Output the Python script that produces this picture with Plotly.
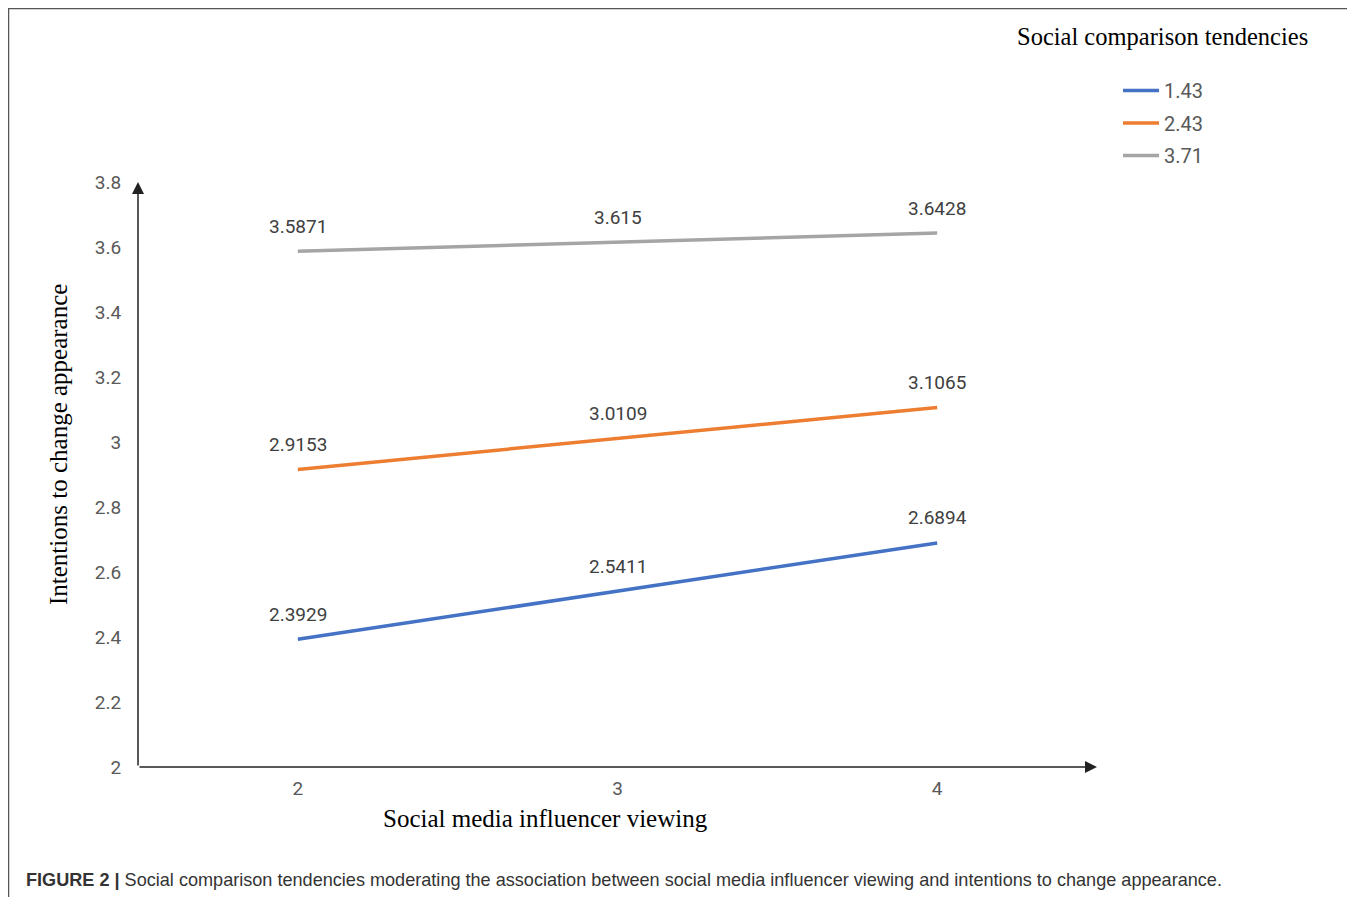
import plotly.graph_objects as go

x_vals = [2, 3, 4]
series_names = ["1.43", "2.43", "3.71"]
low_sct = [2.3929, 2.5411, 2.6894]
mid_sct = [2.9153, 3.0109, 3.1065]
high_sct = [3.5871, 3.615, 3.6428]
series_values = [low_sct, mid_sct, high_sct]
colors = ["#4472C4", "#ED7D31", "#A5A5A5"]
y_ticks = [2, 2.2, 2.4, 2.6, 2.8, 3, 3.2, 3.4, 3.6, 3.8]
y_tick_labels = ["2", "2.2", "2.4", "2.6", "2.8", "3", "3.2", "3.4", "3.6", "3.8"]

OFF = 8  # default page body margin
W, H = 1355 - OFF, 897 - OFF
ML, MR, MT, MB = 138 - OFF, 1355 - 1097, 182 - OFF, 897 - 767
PW, PH = W - ML - MR, H - MT - MB

def px_x(p):
    return (p - OFF - ML) / PW

def px_y(p):
    return (H - MB - (p - OFF)) / PH

fig = go.Figure()
for name, vals, col in zip(series_names, series_values, colors):
    fig.add_trace(go.Scatter(
        x=x_vals, y=vals, name=name, mode="lines",
        line=dict(color=col, width=3.5), legendgroup=name,
    ))

annotations = []
for vals in series_values:
    for xv, yv in zip(x_vals, vals):
        annotations.append(dict(
            x=xv, y=yv, xref="x", yref="y", text=str(yv), showarrow=False,
            yshift=25, font=dict(family="Roboto", size=19, color="#404040"),
        ))

# axis arrows
annotations.append(dict(x=4.5, y=2, ax=1.5, ay=2, xref="x", yref="y", axref="x", ayref="y",
                        text="", showarrow=True, arrowhead=2, arrowsize=1.6, arrowwidth=1.5,
                        arrowcolor="#222222", standoff=0, startstandoff=0))
annotations.append(dict(x=1.5, y=3.8, ax=1.5, ay=2, xref="x", yref="y", axref="x", ayref="y",
                        text="", showarrow=True, arrowhead=2, arrowsize=1.6, arrowwidth=1.5,
                        arrowcolor="#222222", standoff=0, startstandoff=0))

# titles
annotations.append(dict(x=px_x(545), y=px_y(818), xref="paper", yref="paper",
                        text="Social media influencer viewing", showarrow=False,
                        xanchor="center", yanchor="middle",
                        font=dict(family="Liberation Serif", size=25, color="#000000")))
annotations.append(dict(x=px_x(58), y=px_y(445), xref="paper", yref="paper",
                        text="Intentions to change appearance", showarrow=False, textangle=-90,
                        xanchor="center", yanchor="middle",
                        font=dict(family="Liberation Serif", size=25, color="#000000")))
annotations.append(dict(x=px_x(1162), y=px_y(36), xref="paper", yref="paper",
                        text="Social comparison tendencies", showarrow=False,
                        xanchor="center", yanchor="middle",
                        font=dict(family="Liberation Serif", size=24.5, color="#000000")))
annotations.append(dict(x=px_x(24), y=px_y(880), xref="paper", yref="paper",
                        text="<b>FIGURE 2 |</b> Social comparison tendencies moderating the association between social media influencer viewing and intentions to change appearance.",
                        showarrow=False, xanchor="left", yanchor="middle",
                        font=dict(family="Liberation Sans", size=18.1, color="#333333")))

fig.update_layout(
    width=W, height=H,
    margin=dict(l=ML, r=MR, t=MT, b=MB, autoexpand=False),
    paper_bgcolor="white", plot_bgcolor="white",
    showlegend=True,
    legend=dict(x=px_x(1118), y=px_y(71), xanchor="left", yanchor="top",
                font=dict(family="Roboto", size=20, color="#595959"),
                tracegroupgap=3.5, itemwidth=36, bgcolor="rgba(0,0,0,0)"),
    xaxis=dict(range=[1.5, 4.5], tickvals=x_vals, ticktext=[str(v) for v in x_vals],
               showgrid=False, zeroline=False, showline=False, ticks="outside",
               ticklen=4, tickcolor="rgba(0,0,0,0)",
               tickfont=dict(family="Roboto", size=19, color="#595959")),
    yaxis=dict(range=[2, 3.8], tickvals=y_ticks, ticktext=y_tick_labels,
               showgrid=False, zeroline=False, showline=False, ticks="outside",
               ticklen=12, tickcolor="rgba(0,0,0,0)",
               tickfont=dict(family="Roboto", size=19, color="#595959")),
    annotations=annotations,
    shapes=[dict(type="rect", xref="paper", yref="paper",
                 x0=px_x(8.5), x1=px_x(1365), y0=px_y(905), y1=px_y(8.5),
                 line=dict(color="#555555", width=1.5), fillcolor="rgba(0,0,0,0)", layer="below")],
)

fig.write_html("out.html")
